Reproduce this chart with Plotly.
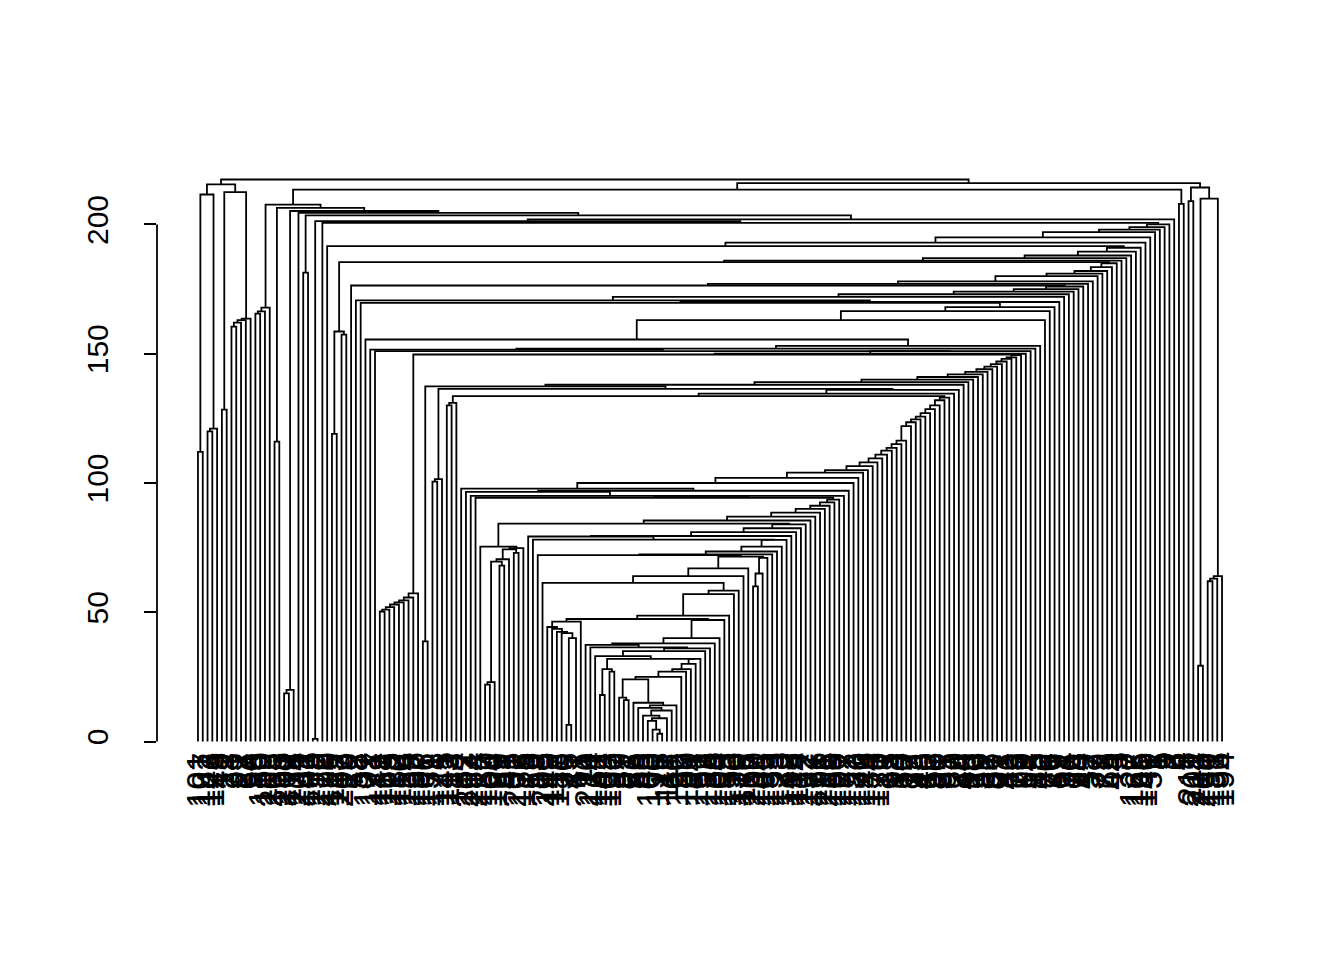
import plotly.graph_objects as go

# height at which each pair of neighbouring leaves first meets (left to right)
gap_left = [112, 211.6, 120, 121, 215.5, 128.4, 212.5, 160.5, 162, 163, 163.6, 217.4,
            165.5, 166.4, 167.8, 207.7, 116, 206.4, 18.6, 20, 205.2, 204.5, 181.4, 203.5,
            1, 201.3, 200.6, 191.6, 119, 158.6, 157.4, 185.4, 176.4, 170.6, 169.7, 155.5,
            151.6, 151, 50.3, 51, 52, 53, 53.8, 54.6, 55.7, 57.3, 149.7, 38.7, 137.4,
            100.5, 101.5, 136.4, 130, 131, 133.6, 97.8, 96.6, 95, 94.3, 75.4, 22, 23,
            69.6, 68, 70.5, 74.3, 73, 74.8, 84.3, 79.3, 78.1, 72.1, 61.4, 44.3, 43.6,
            42.4, 41.9, 6.4, 40, 46.4, 47.4]
gap_middle = [37.4, 36.4, 33, 18, 28, 27, 32, 17, 16, 24, 15, 13, 10, 8, 4.6, 3, 9, 12,
              14, 25, 27, 28, 30, 32, 35, 36, 38, 40, 47, 48.7, 57, 58.4, 64, 67, 71.5,
              60, 65]
gap_stairs = [71, 72.4, 73.5, 75.4, 78, 79.5, 81, 82.5, 84, 85.5,
              87, 88.5, 90, 91.2, 92.5, 93.6, 95, 97, 100, 102,
              104, 105, 106.5, 108, 109.5, 111, 112.5, 113.6, 115, 116.4,
              122, 123.5, 124.6, 125.7, 127, 128.6, 130, 132, 133, 134.6,
              136, 138, 139, 140, 141, 142, 143, 144, 145, 146,
              147, 148, 148.6, 149.5, 150, 151, 152, 153, 163, 166.5,
              168, 170, 172, 173, 174, 175, 176, 177, 178, 180,
              181, 182, 183.5, 185, 186, 187, 188, 189.5, 191, 193,
              195, 197, 198, 199, 200, 202]
gap_right = [213.5, 208, 216, 209, 214.3, 29.3, 210, 62, 63, 64]

leaf_labels = [101, 187, 143, 126,
               45, 12, 78, 33, 91, 27, 64, 50, 86,
               150, 112, 205, 168, 133, 201, 119, 174, 209, 141, 106, 158, 212, 129, 190, 115, 137, 203,
               19, 72, 58, 37,
               102, 171, 147, 118, 163, 125, 182, 110, 154, 139, 196, 107, 166, 131, 178, 121, 145, 113,
               83, 24,
               152, 207, 184, 214, 127, 160, 104, 199,
               69, 41, 95,
               202, 135, 176,
               16, 53, 88,
               206, 149, 117, 188,
               30, 75, 47, 62, 11,
               210, 124, 161, 142, 108, 193,
               97, 39, 81, 22, 56, 68,
               43, 103, 90, 128, 17, 111, 66, 192, 29, 100, 84, 151, 52, 198, 138, 164,
               109, 185, 153, 130, 179, 116, 167, 200, 144, 105, 189, 155, 123, 173, 148, 195,
               114, 162, 132, 177, 156, 191, 215, 169, 180, 197, 172,
               157, 183, 170, 146, 134, 175, 120, 71, 35, 98, 14, 60, 77, 25, 93, 48, 10, 63, 80, 31,
               55, 87, 20, 74, 40, 96, 13, 59, 82, 36, 67, 21, 92, 46, 73, 28, 99, 54, 15, 85,
               42, 70, 26, 89, 61, 34, 76, 18, 94, 49, 57, 32, 79, 23, 65, 44, 3, 38, 7,
               122, 165, 186, 140,
               51, 1, 5, 9, 2, 6, 4, 8,
               211, 204, 213, 208, 159, 181, 136, 194]

gaps = gap_left + gap_middle + gap_stairs + gap_right
n = len(gaps) + 1

xs, ys = [], []


def build(lo, hi):
    # leaves lo..hi (0 based); split at the highest gap, like hclust merges
    if lo == hi:
        return lo + 1, 0.0
    k = max(range(lo, hi), key=lambda j: gaps[j])
    xl, hl = build(lo, k)
    xr, hr = build(k + 1, hi)
    h = gaps[k]
    xs.extend([xl, xl, xr, xr, None])
    ys.extend([hl, h, h, hr, None])
    return (xl + xr) / 2, h


build(0, n - 1)
top = max(gaps)

fig = go.Figure()
fig.add_trace(go.Scatter(x=xs, y=ys, mode="lines", hoverinfo="skip",
                         line=dict(color="black", width=1.8)))

font = "Liberation Sans, Arial, Helvetica, sans-serif"
for i, lab in enumerate(leaf_labels):
    fig.add_annotation(x=i + 1, y=0, xref="x", yref="y", text=str(lab),
                       textangle=-90, showarrow=False, xanchor="center",
                       yanchor="top", yshift=-9,
                       font=dict(family=font, size=33, color="black"))

# R style axis line, only as long as the ticks
fig.add_shape(type="line", xref="paper", yref="y", x0=0, x1=0, y0=0, y1=200,
              line=dict(color="black", width=1.8))

fig.update_layout(
    width=1344, height=960,
    margin=dict(l=149, r=89, t=149, b=204),
    paper_bgcolor="white", plot_bgcolor="white",
    showlegend=False,
    xaxis=dict(range=[1 - 0.04 * (n - 1), n + 0.04 * (n - 1)], visible=False),
    yaxis=dict(range=[-0.04 * top, 1.04 * top], tickvals=[0, 50, 100, 150, 200],
               ticks="outside", ticklen=12, tickwidth=1.8, tickcolor="black",
               tickangle=-90, ticklabelstandoff=24,
               tickfont=dict(family=font, size=30, color="black"),
               showgrid=False, zeroline=False, showline=False),
)

fig.write_html("out.html")
